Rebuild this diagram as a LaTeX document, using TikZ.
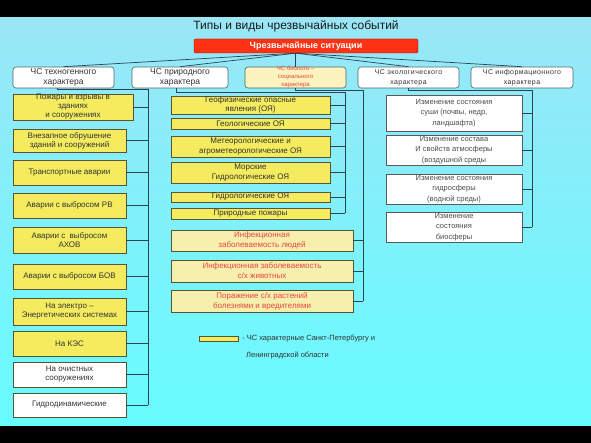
\documentclass[tikz,border=0pt]{standalone}
\usepackage{fontspec}
\setmainfont{Liberation Sans}
\definecolor{linec}{HTML}{2B4550}
\definecolor{ybord}{HTML}{55553A}
\definecolor{yfill}{HTML}{F4EC5E}
\definecolor{txt}{HTML}{333333}
\definecolor{catb}{HTML}{4A6572}
\definecolor{biofill}{HTML}{FCF3BE}
\definecolor{redtxt}{HTML}{E8463C}
\definecolor{inffill}{HTML}{F7EFAE}
\definecolor{redbox}{HTML}{FF3314}
\definecolor{bgtop}{HTML}{9AE6F6}
\definecolor{bgbot}{HTML}{66FCFF}
\begin{document}
\begin{tikzpicture}[x=1pt,y=-1pt,
  line/.style={draw=linec, line width=0.7pt},
  ybox/.style={draw=ybord, fill=yfill, line width=0.6pt, inner sep=0pt, align=center, text=txt, font=\fontsize{8}{9}\selectfont},
  lbox/.style={ybox, minimum width=113pt},
  wbox/.style={lbox, fill=white},
  nbox/.style={ybox, minimum width=159pt, font=\fontsize{8}{9.5}\selectfont},
  ibox/.style={ybox, fill=inffill, text=redtxt, minimum width=182pt, font=\fontsize{8}{10}\selectfont},
  ebox/.style={ybox, fill=white, draw=black!65, text=black!70, minimum width=136pt, font=\fontsize{7.5}{10.5}\selectfont},
  cat/.style={draw=catb, fill=white, rounded corners=3pt, line width=0.6pt, inner sep=0pt, align=center, text=txt, minimum height=21pt, font=\fontsize{8.5}{10}\selectfont},
  catsm/.style={cat, font=\fontsize{7}{10}\selectfont\addfontfeature{LetterSpace=6}}
]
\useasboundingbox (0,0) rectangle (591,443);
\shade[top color=bgtop, bottom color=bgbot] (0,17) rectangle (591,426);
\fill[black] (0,0) rectangle (591,17);
\fill[black] (0,426) rectangle (591,443);

\node[font=\fontsize{12}{14}\selectfont, text=black!90] (title) at (296,26) {Типы и виды чрезвычайных событий};
\node[fill=redbox, draw=red!60!black, rounded corners=2pt, minimum width=224pt, minimum height=14pt, inner sep=0pt, font=\bfseries\fontsize{9}{10}\selectfont, text=white] (top) at (306,46) {Чрезвычайные ситуации};

% categories
\node[cat, minimum width=101pt] (c1) at (63.5,77.5) {ЧС техногенного\\характера};
\node[cat, minimum width=96pt] (c2) at (180,77.5) {ЧС природного\\характера};
\node[cat, fill=biofill, minimum width=101pt] (c3) at (295.5,77.5) {};
\node[text=redtxt, font=\fontsize{6}{8.3}\selectfont, align=center, inner sep=0pt] (c3t) at (295.5,77) {ЧС биолого –\\социального\\характера};
\node[catsm, minimum width=101pt] (c4) at (408.5,77.5) {ЧС экологического\\характера};
\node[catsm, minimum width=102pt] (c5) at (522,77.5) {ЧС информационного\\характера};

\coordinate (hub) at (c3.north |- top.south);
\draw[line] (hub) -- (c1.north);
\draw[line] (hub) -- (c2.north);
\draw[line] (hub) -- (c3.north);
\draw[line] (hub) -- (c4.north);
\draw[line] (hub) -- (c5.north);

% technogenic column
\node[lbox, minimum width=120pt, minimum height=26pt] (t1) at (73,107) {Пожары и взрывы в\\зданиях\\и сооружениях};
\node[lbox, minimum height=23pt] (t2) at (69.5,140.5) {Внезапное обрушение\\зданий и сооружений};
\node[lbox, minimum height=25pt] (t3) at (69.5,172.5) {Транспортные аварии};
\node[lbox, minimum height=25pt] (t4) at (69.5,205.5) {Аварии с выбросом РВ};
\node[lbox, minimum height=26pt] (t5) at (69.5,240) {Аварии с \ выбросом\\АХОВ};
\node[lbox, minimum height=25pt] (t6) at (69.5,276.5) {Аварии с выбросом БОВ};
\node[lbox, minimum height=27pt] (t7) at (69.5,311.5) {На электро –\\Энергетических системах};
\node[lbox, minimum height=25pt] (t8) at (69.5,343.5) {На КЭС};
\node[wbox, minimum height=25pt] (t9) at (69.5,374.5) {На очистных\\сооружениях};
\node[wbox, minimum height=24pt] (t10) at (69.5,405) {Гидродинамические};

\coordinate (bl) at (148,89.5);
\draw[line] ([xshift=-6.5pt]c1.south) |- (bl) -- (bl |- t10.east);
\foreach \n in {t1,t2,t3,t4,t5,t6,t7,t8,t9,t10}
  \draw[line] (\n.east) -- (\n.east -| bl);

% natural column
\node[nbox, minimum height=18pt] (n1) at (250.5,105) {Геофизические опасные\\явления (ОЯ)};
\node[nbox, minimum height=11pt] (n2) at (250.5,123.5) {Геологические ОЯ};
\node[nbox, minimum height=21pt] (n3) at (250.5,146.5) {Метеорологические и\\агрометеорологические ОЯ};
\node[nbox, minimum height=21pt] (n4) at (250.5,172.5) {Морские\\Гидрологические ОЯ};
\node[nbox, minimum height=10pt] (n5) at (250.5,197) {Гидрологические ОЯ};
\node[nbox, minimum height=11pt] (n6) at (250.5,213.5) {Природные пожары};

\coordinate (bn) at (345,92);
\draw[line] ([xshift=-4pt]c2.south) |- (bn) -- (bn |- n6.east);
\foreach \n in {n1,n2,n3,n4,n5,n6}
  \draw[line] (\n.east) -- (\n.east -| bn);

% bio-social column
\node[ibox, minimum height=21pt] (b1) at (262,240.5) {Инфекционная\\заболеваемость людей};
\node[ibox, minimum height=22pt] (b2) at (262,271) {Инфекционная заболеваемость\\с/х животных};
\node[ibox, minimum height=22pt] (b3) at (262,301) {Поражение с/х растений\\болезнями и вредителями};

\coordinate (bb) at (363,90.5);
\draw[line] (c3.south) |- (bb) -- (bb |- b3.east);
\foreach \n in {b1,b2,b3}
  \draw[line] (\n.east) -- (\n.east -| bb);

% ecological column
\node[ebox, minimum height=36pt] (e1) at (454,113) {Изменение состояния\\суши (почвы, недр,\\ландшафта)};
\node[ebox, minimum height=30pt] (e2) at (454,150) {Изменение состава\\И свойств атмосферы\\(воздушной среды};
\node[ebox, minimum height=30pt] (e3) at (454,189) {Изменение состояния\\гидросферы\\(водной среды)};
\node[ebox, minimum height=30pt] (e4) at (454,227) {Изменение\\состояния\\биосферы};

\coordinate (be) at (532,90);
\draw[line] (c4.south) |- (be) -- (be |- e4.east);
\foreach \n in {e1,e2,e3,e4}
  \draw[line] (\n.east) -- (\n.east -| be);

% legend
\node[draw=ybord, fill=yfill, line width=0.6pt, minimum width=39pt, minimum height=5pt, inner sep=0pt] (leg) at (218.5,338.5) {};
\node[anchor=west, font=\fontsize{7.5}{9}\selectfont, text=txt, inner sep=0pt] (legt1) at (242,338.5) {- ЧС характерные Санкт-Петербургу и};
\node[anchor=west, font=\fontsize{7.5}{9}\selectfont, text=txt, inner sep=0pt] (legt2) at (246,355) {Ленинградской области};
\end{tikzpicture}
\end{document}
